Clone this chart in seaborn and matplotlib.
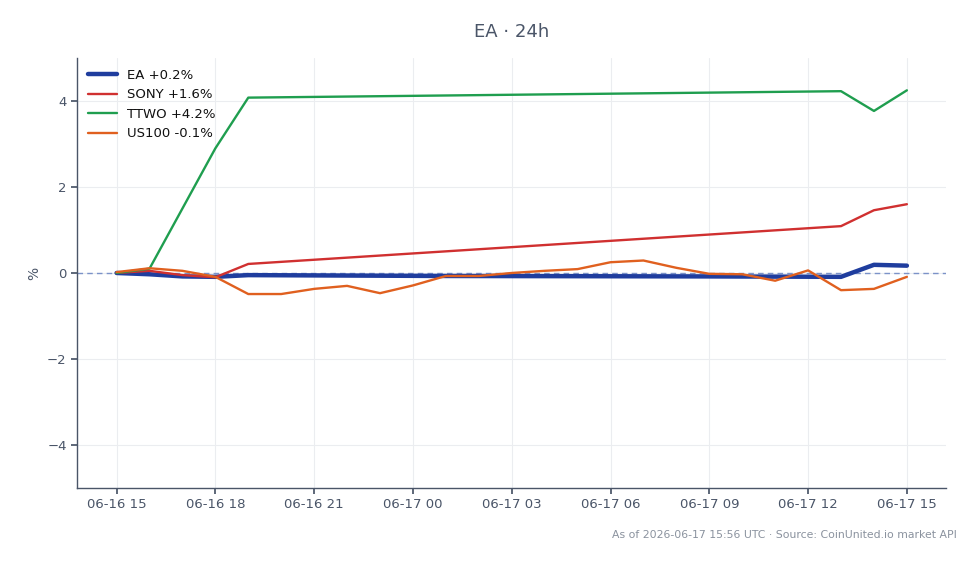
import pandas as pd
import matplotlib.pyplot as plt
import matplotlib.dates as mdates
import seaborn as sns

# hourly timestamps, 2026-06-16 15:00 .. 2026-06-17 15:00
hours = pd.date_range("2026-06-16 15:00", "2026-06-17 15:00", freq="h")

# sparse series (feed only has these hours)
ea_idx = [0, 1, 2, 3, 4, 10, 18, 22, 23, 24]
ea_vals = [0.0, -0.03, -0.08, -0.09, -0.05, -0.07, -0.08, -0.09, 0.19, 0.17]

sony_idx = [0, 1, 2, 3, 4, 22, 23, 24]
sony_vals = [0.0, 0.05, -0.05, -0.1, 0.21, 1.09, 1.46, 1.6]

ttwo_idx = [0, 1, 2, 3, 4, 22, 23, 24]
ttwo_vals = [0.0, 0.1, 1.5, 2.9, 4.08, 4.23, 3.77, 4.25]

us100_vals = [0.02, 0.11, 0.05, -0.09, -0.49, -0.49, -0.37, -0.30, -0.47, -0.29,
              -0.07, -0.07, 0.0, 0.05, 0.09, 0.25, 0.29, 0.12, -0.02, -0.03,
              -0.18, 0.06, -0.40, -0.37, -0.09]

labels = ["EA +0.2%", "SONY +1.6%", "TTWO +4.2%", "US100 -0.1%"]
colors = ["#1f3d9e", "#d03030", "#1f9e4f", "#e0601f"]
widths = [3.2, 1.7, 1.7, 1.7]

series = [
    (hours[ea_idx], ea_vals),
    (hours[sony_idx], sony_vals),
    (hours[ttwo_idx], ttwo_vals),
    (hours, us100_vals),
]

sns.set_theme(style="whitegrid")
plt.rcParams['font.family'] = ['DejaVu Sans']

fig = plt.figure(figsize=(9.79, 5.64), dpi=100)
ax = fig.add_axes([0.0787, 0.135, 0.888, 0.762])

ax.axhline(0, color="#7b92c8", linestyle="--", linewidth=1.0, dashes=(4, 3), zorder=1.5)

for (t, v), lab, c, w in zip(series, labels, colors, widths):
    df = pd.DataFrame({"time": t, "pct": v})
    sns.lineplot(data=df, x="time", y="pct", ax=ax, color=c, linewidth=w, label=lab, zorder=2)

ax.set_ylim(-5, 5)
ax.set_yticks([-4, -2, 0, 2, 4])
ax.xaxis.set_major_locator(mdates.HourLocator(byhour=[0, 3, 6, 9, 12, 15, 18, 21]))
ax.xaxis.set_major_formatter(mdates.DateFormatter("%m-%d %H"))

ax.set_xlabel("")
ax.set_ylabel("%", color="#4a5568", fontsize=10)
ax.set_title("EA · 24h", color="#4a5568", fontsize=13, pad=15)

ax.grid(True, color="#ebedf0", linewidth=0.8)
for s in ["top", "right"]:
    ax.spines[s].set_visible(False)
for s in ["left", "bottom"]:
    ax.spines[s].set_color("#4a5568")
    ax.spines[s].set_linewidth(1.0)
ax.tick_params(axis="both", colors="#4a5568", labelsize=9.5, length=4, bottom=True, left=True)

leg = ax.legend(loc="upper left", frameon=False, fontsize=9.5, handlelength=2.2,
                borderaxespad=0.4)
for txt in leg.get_texts():
    txt.set_color("#111111")

fig.text(0.977, 0.052, "As of 2026-06-17 15:56 UTC · Source: CoinUnited.io market API",
         ha="right", va="center", fontsize=7.8, color="#8a929e")

fig.savefig("out.png", dpi=100)
